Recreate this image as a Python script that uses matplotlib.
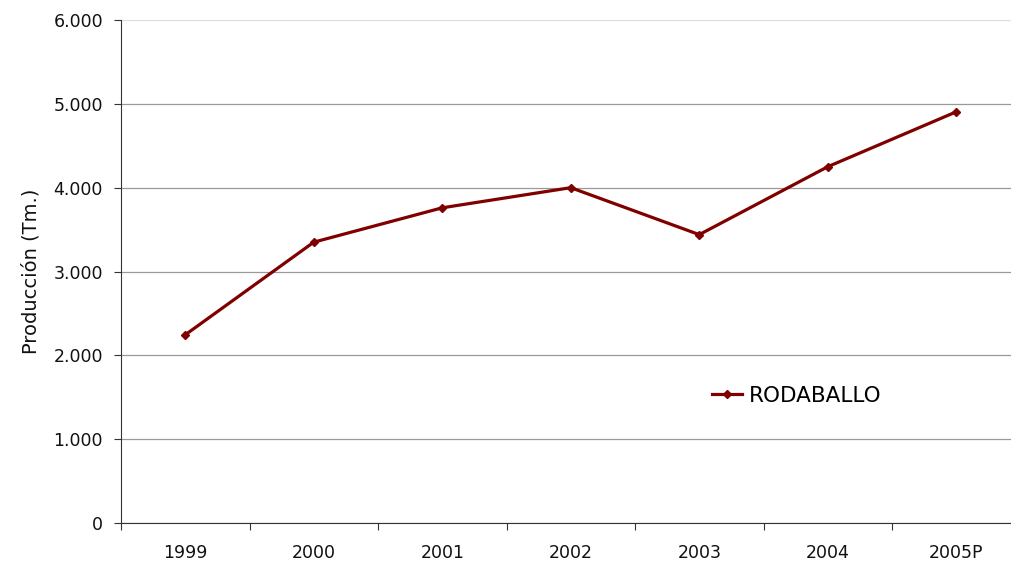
import matplotlib.pyplot as plt
from matplotlib.ticker import FuncFormatter

# production of turbot per year (Tm.)
years = ['1999', '2000', '2001', '2002', '2003', '2004', '2005P']
produccion = [2245, 3350, 3760, 4000, 3440, 4250, 4905]

plt.rcParams['font.family'] = ['DejaVu Sans']

fig = plt.figure(figsize=(10.11, 5.67), dpi=100)
ax = fig.add_axes([0.1197, 0.0776, 0.8803, 0.8871])

x = range(len(years))
ax.plot(x, produccion, color='#800000', lw=2.3, marker='D', ms=4,
        label='RODABALLO')

ax.set_ylim(0, 6000)
ax.set_yticks(range(0, 6001, 1000))
ax.yaxis.set_major_formatter(FuncFormatter(lambda v, p: f'{int(v):,}'.replace(',', '.')))
ax.set_xlim(-0.5, 6.426)
ax.set_xticks([i + 0.5 for i in range(-1, 6)])
ax.set_xticklabels([])
ax.set_xticks(list(x), minor=True)
ax.set_xticklabels(years, minor=True)
ax.tick_params(axis='x', which='minor', length=0, pad=15, labelsize=12.5,
               labelcolor='#111111')
ax.tick_params(axis='x', which='major', length=5, direction='out', color='#333333')
ax.tick_params(axis='y', length=5, labelsize=12.5, pad=8, color='#333333',
               labelcolor='#111111')

ax.grid(axis='y', color='#999999', lw=0.9)
ax.yaxis.get_gridlines()[-1].set_color('#dddddd')
ax.set_axisbelow(True)
for s in ['top', 'right']:
    ax.spines[s].set_visible(False)
ax.spines['left'].set_color('#333333')
ax.spines['bottom'].set_color('#333333')

ax.set_ylabel('Producción (Tm.)', fontsize=14, labelpad=9, color='#111111')

ax.legend(loc='center left', bbox_to_anchor=(0.664, 0.2525), frameon=False,
          fontsize=15.5, handlelength=1.4, handletextpad=0.3,
          borderaxespad=0, borderpad=0)

fig.savefig('out.png', dpi=100)
